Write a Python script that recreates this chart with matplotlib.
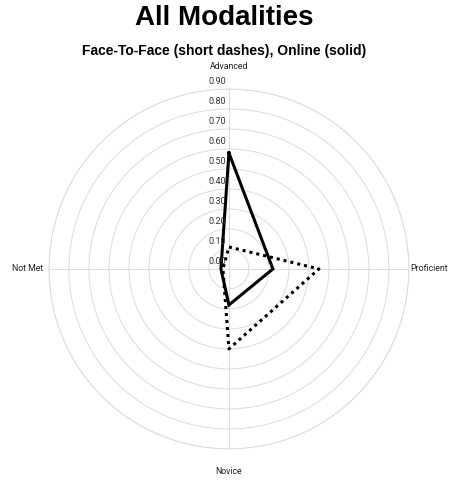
import matplotlib.pyplot as plt
import numpy as np

# axes of the radar, clockwise from the top
categories = ["Advanced", "Proficient", "Novice", "Not Met"]
face_to_face = [0.11, 0.45, 0.40, 0.03]
online = [0.58, 0.22, 0.18, 0.04]
r_ticks = [0.0, 0.1, 0.2, 0.3, 0.4, 0.5, 0.6, 0.7, 0.8, 0.9]
r_labels = ["0.00", "0.10", "0.20", "0.30", "0.40", "0.50", "0.60", "0.70", "0.80", "0.90"]

fig = plt.figure(figsize=(4.51, 4.82), dpi=100)
fig.text(0.497, 0.962, "All Modalities", ha="center", va="center",
         fontsize=20, fontweight="bold", family="Liberation Sans")
fig.text(0.497, 0.894, "Face-To-Face (short dashes), Online (solid)", ha="center",
         va="center", fontsize=10, fontweight="bold", family="Liberation Sans")

ax = fig.add_axes([0.1086, 0.0685, 0.798, 0.747], projection="polar")
ax.set_theta_zero_location("N")
ax.set_theta_direction(-1)

theta = np.linspace(0, 2 * np.pi, len(categories), endpoint=False)
closed_t = np.append(theta, theta[0])

ax.plot(closed_t, face_to_face + face_to_face[:1], color="black", lw=2.2,
        dashes=(1, 1.3), solid_capstyle="butt")
ax.plot(closed_t, online + online[:1], color="black", lw=2.2, solid_joinstyle="miter")

ax.set_ylim(0, 0.9)
ax.set_yticks(r_ticks)
ax.set_yticklabels([])
ax.set_xticks(theta)
ax.set_xticklabels([])
ax.grid(color="#dcdcdc", lw=0.7)
ax.spines["polar"].set_color("#dcdcdc")
ax.spines["polar"].set_linewidth(0.7)

for r, lab in zip(r_ticks, r_labels):
    ax.annotate(lab, xy=(0, r), xytext=(-2, 2), textcoords="offset points",
                ha="right", va="bottom", fontsize=6.5, color="#333333", family="Roboto")

offsets = [(0, 16), (1, 0), (0, -16), (-4, 0)]
aligns = [("center", "center"), ("left", "center"), ("center", "center"), ("right", "center")]
for t, lab, off, (ha, va) in zip(theta, categories, offsets, aligns):
    ax.annotate(lab, xy=(t, 0.9), xytext=off, textcoords="offset points",
                ha=ha, va=va, fontsize=6.3, color="#222222", family="Roboto",
                annotation_clip=False)

fig.savefig("out.png", dpi=100)
